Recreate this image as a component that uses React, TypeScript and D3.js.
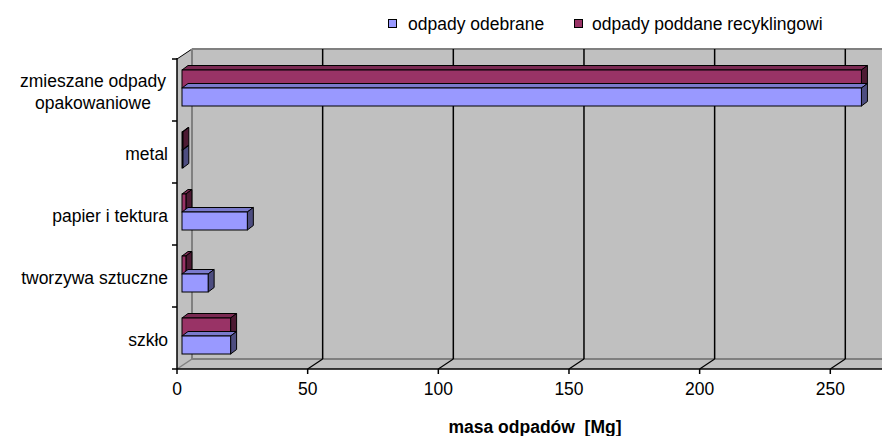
import React from "react";
import * as d3 from "d3";

const categories = ["zmieszane odpady|opakowaniowe", "metal", "papier i tektura", "tworzywa sztuczne", "szkło"];
const odebrane = [260, 0.3, 25, 10, 18.6];
const recykling = [260, 0.3, 1.5, 1.5, 18.6];
const xTicks = [0, 50, 100, 150, 200, 250];
const seriesNames = ["odpady odebrane", "odpady poddane recyklingowi"];

const W = 882, H = 436;
const FONT = "'Liberation Sans', Arial, sans-serif";
const FS = 17.5;

const BLUE = { front: "#9999FF", top: "#7A7ACC", side: "#4D4D80" };
const RED = { front: "#993366", top: "#7A2952", side: "#4D1A33" };

export default function App() {
  const x0 = 177, yTop = 59, yBot = 369;
  const wallDx = 15, wallDy = -10;
  const x = d3.scaleLinear().domain([0, 250]).range([x0, 830.3]);
  const y = d3.scaleBand().domain(categories).range([yTop, yBot]);
  const barH = 18;
  const fOff = { dx: 5, dy: -2 };
  const depth = { dx: 6, dy: -4.5 };

  const bars: JSX.Element[] = [];
  categories.forEach((c, i) => {
    const cy = (y(c) as number) + y.bandwidth() / 2 + fOff.dy;
    const sub = d3.scaleBand().domain(["r", "b"]).range([cy - barH, cy + barH]);
    const defs = [
      { k: "r", v: recykling[i], col: RED },
      { k: "b", v: odebrane[i], col: BLUE },
    ];
    defs.forEach((d) => {
      const bx0 = x(0) + fOff.dx;
      const bx1 = x(d.v) + fOff.dx;
      const by0 = sub(d.k) as number;
      const by1 = by0 + sub.bandwidth();
      const topPts = [[bx0, by0], [bx1, by0], [bx1 + depth.dx, by0 + depth.dy], [bx0 + depth.dx, by0 + depth.dy]];
      const sidePts = [[bx1, by0], [bx1 + depth.dx, by0 + depth.dy], [bx1 + depth.dx, by1 + depth.dy], [bx1, by1]];
      bars.push(
        <g key={c + d.k}>
          <polygon points={topPts.map((p) => p.join(",")).join(" ")} fill={d.col.top} stroke="#000" strokeWidth={1} strokeLinejoin="round" />
          <polygon points={sidePts.map((p) => p.join(",")).join(" ")} fill={d.col.side} stroke="#000" strokeWidth={1} strokeLinejoin="round" />
          <rect x={bx0} y={by0} width={Math.max(bx1 - bx0, 0)} height={by1 - by0} fill={d.col.front} stroke="#000" strokeWidth={1} />
        </g>
      );
    });
  });

  const backX0 = x0 + wallDx;
  const backTop = yTop + wallDy;
  const backBot = yBot + wallDy;

  return (
    <svg width={W} height={H} style={{ position: "absolute", left: 0, top: 0, background: "#fff" }} fontFamily={FONT}>
      {/* back wall */}
      <rect x={backX0} y={backTop} width={W - backX0 + 20} height={backBot - backTop} fill="#C0C0C0" />
      <line x1={backX0} y1={backTop} x2={W + 10} y2={backTop} stroke="#808080" strokeWidth={2} />
      {/* left side wall */}
      <polygon points={`${x0},${yTop} ${backX0},${backTop} ${backX0},${backBot} ${x0},${yBot}`} fill="#C0C0C0" />
      <line x1={x0} y1={yTop} x2={backX0} y2={backTop} stroke="#000" strokeWidth={1} />
      <line x1={backX0} y1={backTop} x2={backX0} y2={backBot} stroke="#808080" strokeWidth={2} />
      {/* floor */}
      <polygon points={`${x0},${yBot} ${backX0},${backBot} ${W + 20},${backBot} ${W + 20},${yBot}`} fill="#C0C0C0" />
      <line x1={backX0} y1={backBot} x2={W + 10} y2={backBot} stroke="#808080" strokeWidth={2} />
      <line x1={x0} y1={yBot} x2={backX0} y2={backBot} stroke="#808080" strokeWidth={1.5} />
      {/* gridlines */}
      {xTicks.filter((t) => t > 0).map((t) => (
        <g key={t}>
          <line x1={x(t) + wallDx} y1={backTop} x2={x(t) + wallDx} y2={backBot} stroke="#000" strokeWidth={1.5} />
          <line x1={x(t)} y1={yBot} x2={x(t) + wallDx} y2={backBot} stroke="#000" strokeWidth={1.2} />
        </g>
      ))}
      {/* axes */}
      <line x1={x0} y1={yTop - 1} x2={x0} y2={yBot} stroke="#000" strokeWidth={1.5} />
      <line x1={x0} y1={yBot} x2={W + 10} y2={yBot} stroke="#000" strokeWidth={1.5} />
      {d3.range(categories.length + 1).map((i) => {
        const ty = yTop + i * y.step();
        return <line key={i} x1={x0 - 5} y1={ty} x2={x0} y2={ty} stroke="#000" strokeWidth={1.5} />;
      })}
      {xTicks.map((t) => (
        <g key={t}>
          <line x1={x(t)} y1={yBot} x2={x(t)} y2={yBot + 5} stroke="#000" strokeWidth={1.5} />
          <text x={x(t)} y={395} textAnchor="middle" fontSize={FS} fill="#000">{t}</text>
        </g>
      ))}
      {bars}
      {/* category labels */}
      {categories.map((c) => {
        const cy = (y(c) as number) + y.bandwidth() / 2 + 2;
        const parts = c.split("|");
        if (parts.length > 1) {
          return (
            <text key={c} textAnchor="middle" fontSize={FS} fill="#000">
              {parts.map((p, j) => (
                <tspan key={j} x={93} y={cy - 11 + j * 22 + 6}>{p}</tspan>
              ))}
            </text>
          );
        }
        return (
          <text key={c} x={168} y={cy + 6} textAnchor="end" fontSize={FS} fill="#000">{c}</text>
        );
      })}
      {/* x axis title */}
      <text x={535} y={433} textAnchor="middle" fontSize={FS} fontWeight="bold" fill="#000" style={{ whiteSpace: "pre" }}>
        {"masa odpadów  [Mg]"}
      </text>
      {/* legend */}
      <rect x={388.5} y={19.5} width={8} height={8} fill={BLUE.front} stroke="#000" strokeWidth={1} />
      <text x={408} y={29.5} fontSize={FS} fill="#000">{seriesNames[0]}</text>
      <rect x={574.5} y={19.5} width={8} height={8} fill={RED.front} stroke="#000" strokeWidth={1} />
      <text x={592} y={29.5} fontSize={FS} fill="#000">{seriesNames[1]}</text>
    </svg>
  );
}
